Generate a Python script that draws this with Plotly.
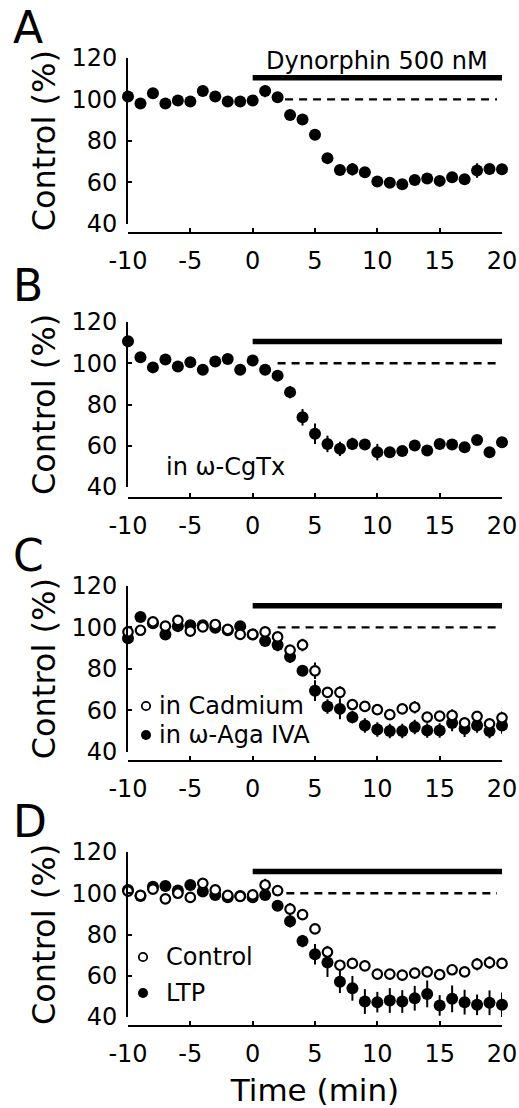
import plotly.graph_objects as go

# ---------------- data ----------------
time_min = list(range(-10, 21))
ticks_x = [-10, -5, 0, 5, 10, 15, 20]
tick_labels_x = ["-10", "-5", "0", "5", "10", "15", "20"]
ticks_y = [40, 60, 80, 100, 120]
tick_labels_y = ["40", "60", "80", "100", "120"]
drug_period = [0, 20]

a_dyn = [101.4, 98, 103, 98, 99.5, 99, 104, 101.4, 99, 99, 99.5,
         104, 101, 92.4, 90.3, 82.9, 71.6, 65.9, 66.2, 64.8, 60.3,
         59.7, 59, 61, 61.7, 60.6, 62.4, 61.4, 65.6, 66.4, 66.2]
a_err = [1, 1, 1.5, 1, 1, 1, 1, 1.5, 1, 1, 1,
         3, 1.5, 2.5, 2, 1.5, 1.5, 2, 3, 2, 1.5,
         2, 2.5, 1.5, 1.5, 1.5, 2.5, 1.5, 3.5, 2, 1.5]

b_cgtx = [110.7, 102.9, 98, 101.8, 98.4, 100.5, 96.8, 100.8, 102.1, 96.9, 101.3,
          96.8, 94, 86, 73.8, 65.8, 60.9, 58.5, 60.9, 60.6, 56.9,
          56.9, 57.4, 60.1, 57.7, 60.9, 60.6, 59.3, 62.8, 56.9, 61.7]
b_err = [2, 1, 1, 1, 1, 1, 1, 1, 1, 1, 1,
         1, 2.5, 3, 4, 5, 4, 3.5, 3, 2.5, 4,
         2, 2, 2, 2, 1.5, 2, 2, 1.5, 1.5, 2]

c_cadmium = [97.8, 98.6, 102.7, 100.6, 103.4, 98.2, 100.2, 101.4, 99, 96.6, 96.6,
             97.8, 95.4, 89, 91.5, 79, 68.6, 68.6, 62.7, 61.8, 60.2,
             57.8, 60.6, 61.4, 56.6, 57.1, 57.4, 53.8, 57, 53.4, 56.3]
c_cadmium_err = [2, 2, 2, 2, 2, 2, 2, 2, 2, 2, 2,
                 2, 2, 2.5, 3, 4, 2, 3, 2, 2, 2,
                 2, 2, 3, 2, 2, 3, 2, 2, 2, 3]
c_aga = [94.7, 105, 102, 96.6, 100.6, 101, 101, 99.8, 98.6, 100.6, 96.6,
         93.4, 91.5, 85.8, 79, 69.4, 61.8, 60.6, 56.6, 52.6, 50.6,
         49.9, 49.9, 51.8, 50.2, 50.2, 53.8, 51, 52.6, 49.9, 52.6]
c_aga_err = [2, 2, 2, 2, 2, 2, 2, 2, 2, 2, 2,
             2, 3, 3, 2, 5, 3.5, 5, 3, 3.5, 3.5,
             3.5, 3.5, 3.5, 3.5, 3.5, 4, 4, 3.5, 3.5, 4]

d_control = [101, 99, 102, 97.3, 100, 98, 104.8, 101.6, 99, 98.5, 99.2,
             104, 101.3, 92.3, 89.6, 82.7, 71.5, 65.1, 66, 64.8, 60.8,
             60.8, 60.3, 61.3, 61.9, 60.5, 62.9, 61.9, 65.6, 66.4, 66]
d_control_err = [1.5, 1.5, 1.5, 1.5, 1.5, 1.5, 1.5, 1.5, 1.5, 1.5, 1.5,
                 3, 2, 3, 2, 2, 3, 2.5, 2.5, 2.5, 2.5,
                 2.5, 2.5, 2.5, 2.5, 2.5, 2.5, 2.5, 3, 3, 2]
d_ltp = [101.6, 98.7, 103.2, 103.5, 101.3, 104, 100.8, 99.2, 98.1, 98.7, 98.1,
         99.2, 93.9, 86.4, 76.8, 70.4, 66.4, 57.1, 53.9, 47.5, 47.2,
         48, 47.5, 49.1, 51.2, 45.6, 48.8, 47.2, 45.9, 46.9, 45.9]
d_ltp_err = [1.5, 1.5, 1.5, 1.5, 1.5, 1.5, 1.5, 1.5, 1.5, 1.5, 1.5,
             1.5, 2, 3, 3, 5, 7, 5.5, 6, 6, 5,
             6, 5.5, 6, 6.5, 5, 6.5, 6, 5, 6, 6]

baseline_start = [2.6, 2.0, 2.0, 2.7]
baseline_end = 19.6

# ---------------- layout helpers ----------------
W, H = 519, 1108
FONT = "DejaVu Sans"


def fx(px):
    return px / W


def fy(px):
    return 1 - px / H


# y pixel extents (top=120, bottom=40) and x-axis line position for each panel
panels = [
    dict(top=58, bottom=223.5, xline=233, letter="A", lety=27),
    dict(top=322, bottom=487, xline=498, letter="B", lety=285),
    dict(top=586, bottom=751.5, xline=761, letter="C", lety=555),
    dict(top=852, bottom=1017, xline=1026, letter="D", lety=821),
]

fig = go.Figure()


def add_series(idx, y, err, filled):
    sfx = "" if idx == 1 else str(idx)
    if filled:
        marker = dict(symbol="circle", size=12, color="black",
                      line=dict(width=0))
    else:
        marker = dict(symbol="circle", size=9.5, color="white",
                      line=dict(width=2.2, color="black"))
    fig.add_trace(go.Scatter(
        x=time_min, y=y, mode="markers", marker=marker,
        error_y=dict(type="data", array=err, visible=True, color="black",
                     thickness=2, width=0),
        xaxis="x" + sfx, yaxis="y" + sfx, cliponaxis=False,
        showlegend=False, hoverinfo="skip"))


add_series(1, a_dyn, a_err, True)
add_series(2, b_cgtx, b_err, True)
add_series(3, c_aga, c_aga_err, True)
add_series(3, c_cadmium, c_cadmium_err, False)
add_series(4, d_ltp, d_ltp_err, True)
add_series(4, d_control, d_control_err, False)

layout = dict(
    template="none",
    width=W, height=H,
    margin=dict(l=0, r=0, t=0, b=0, autoexpand=False),
    paper_bgcolor="white", plot_bgcolor="white",
    font=dict(family=FONT, color="black", size=24),
    showlegend=False,
)

shapes = []
annotations = []

for i, p in enumerate(panels):
    n = i + 1
    sfx = "" if n == 1 else str(n)
    layout["xaxis" + sfx] = dict(
        domain=[fx(128), fx(502)], range=[-10, 20],
        anchor="free", position=fy(p["xline"]),
        tickmode="array", tickvals=ticks_x, ticktext=tick_labels_x,
        ticks="inside", ticklen=4, tickwidth=2,
        tickcolor="black", showline=True, linewidth=2, linecolor="black",
        showgrid=False, zeroline=False, automargin=False,
        tickfont=dict(family=FONT, size=24, color="black"),
        ticklabelstandoff=6,
    )
    layout["yaxis" + sfx] = dict(
        domain=[fy(p["bottom"]), fy(p["top"])], range=[40, 120],
        anchor="x" + sfx,
        tickmode="array", tickvals=ticks_y, ticktext=tick_labels_y,
        ticks="inside", ticklen=4, tickwidth=2,
        tickcolor="black", showline=True, linewidth=2, linecolor="black",
        showgrid=False, zeroline=False, automargin=False,
        tickfont=dict(family=FONT, size=24, color="black"),
        ticklabelstandoff=4,
        title=dict(text="Control (%)", font=dict(family=FONT, size=32),
                   standoff=6),
    )
    # drug application bar
    shapes.append(dict(type="line", xref="x" + sfx, yref="y" + sfx,
                       x0=drug_period[0], x1=drug_period[1], y0=110.5, y1=110.5,
                       line=dict(color="black", width=5.5)))
    # 100% baseline
    shapes.append(dict(type="line", xref="x" + sfx, yref="y" + sfx,
                       x0=baseline_start[i], x1=baseline_end, y0=100, y1=100,
                       line=dict(color="black", width=2.4, dash="8px,6px")))
    # panel letter
    annotations.append(dict(text=p["letter"], xref="paper", yref="paper",
                            x=fx(11), y=fy(p["lety"]), xanchor="left",
                            yanchor="middle", showarrow=False,
                            font=dict(family=FONT, size=44, color="black")))

layout["xaxis4"]["title"] = dict(text="Time (min)",
                                 font=dict(family=FONT, size=31), standoff=14)

annotations.append(dict(text="Dynorphin 500 nM", xref="x", yref="y",
                        x=10, y=118.5, xanchor="center", yanchor="middle",
                        showarrow=False, font=dict(family=FONT, size=24)))
annotations.append(dict(text="in ω-CgTx", xref="x2", yref="y2",
                        x=-2.2, y=49.5, xanchor="center", yanchor="middle",
                        showarrow=False, font=dict(family=FONT, size=24)))

# legend keys (panels C and D)
legend_items = [
    (706, 146, 157, "in Cadmium", False),
    (735, 146, 157, "in ω-Aga IVA", True),
    (957, 143, 164, "Control", False),
    (993, 143, 164, "LTP", True),
]
for ypx, cx, tx, label, filled in legend_items:
    r = 5 if filled else 4.2
    shapes.append(dict(type="circle", xref="paper", yref="paper",
                       xsizemode="pixel", ysizemode="pixel",
                       xanchor=fx(cx), yanchor=fy(ypx),
                       x0=-r, x1=r, y0=-r, y1=r,
                       fillcolor="black" if filled else "white",
                       line=dict(color="black", width=0 if filled else 1.8)))
    annotations.append(dict(text=label, xref="paper", yref="paper",
                            x=fx(tx), y=fy(ypx), xanchor="left",
                            yanchor="middle", showarrow=False,
                            font=dict(family=FONT, size=24)))

layout["shapes"] = shapes
layout["annotations"] = annotations
fig.update_layout(**layout)

fig.write_html(
    "out.html",
    config={"displayModeBar": False},
    post_script="document.body.style.margin='0';"
                "document.body.style.overflow='hidden';",
)
